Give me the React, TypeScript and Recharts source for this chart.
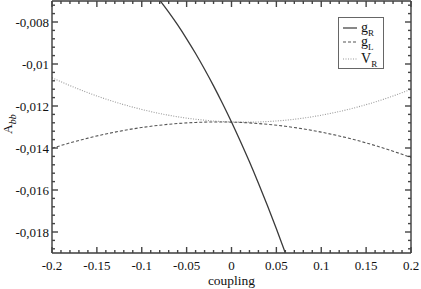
import { LineChart, Line, XAxis, YAxis, Legend } from 'recharts'

const FRAME = '#3c3c3c'
const TICK = '#444'
const FONT = '"Liberation Serif", "Times New Roman", serif'

// coupling values
const gRCoupling = [-0.08, -0.07, -0.06, -0.05, -0.04, -0.03, -0.02, -0.01, 0, 0.01, 0.02, 0.03, 0.04, 0.05, 0.06, 0.07]
const gRValues = [
  -0.00696, -0.00753, -0.00814, -0.0088, -0.0095, -0.01025, -0.01104, -0.01188, -0.01276,
  -0.01369, -0.01466, -0.01568, -0.01674, -0.01785, -0.019, -0.0202,
]

const sideCoupling = [
  -0.2, -0.18, -0.16, -0.14, -0.12, -0.1, -0.08, -0.06, -0.04, -0.02, 0,
  0.02, 0.04, 0.06, 0.08, 0.1, 0.12, 0.14, 0.16, 0.18, 0.2,
]
const gLValues = [
  -0.014013, -0.013756, -0.01353, -0.013332, -0.013164, -0.013024, -0.012915, -0.012834, -0.012783, -0.012761, -0.012768,
  -0.012805, -0.012871, -0.012966, -0.01309, -0.013244, -0.013427, -0.013639, -0.013881, -0.014152, -0.014452,
]
const vRValues = [
  -0.010653, -0.011028, -0.011367, -0.01167, -0.011935, -0.012164, -0.012357, -0.012512, -0.012631, -0.012714, -0.01276,
  -0.01277, -0.012741, -0.012677, -0.012576, -0.012439, -0.012265, -0.012054, -0.011807, -0.011523, -0.011203,
]

const xMajorTicks = [-0.2, -0.15, -0.1, -0.05, 0, 0.05, 0.1, 0.15, 0.2]
const xMajorLabels = ['-0.2', '-0.15', '-0.1', '-0.05', '0', '0.05', '0.1', '0.15', '0.2']
const yMajorTicks = [-0.018, -0.016, -0.014, -0.012, -0.01, -0.008]
const yMajorLabels = ['-0,018', '-0,016', '-0,014', '-0,012', '-0,01', '-0,008']

const xTicks = Array.from({ length: 41 }, (_, i) => Math.round((-0.2 + i * 0.01) * 100) / 100)
const yTicks = Array.from({ length: 30 }, (_, i) => Math.round((-0.0188 + i * 0.0004) * 10000) / 10000)

const gRData = gRCoupling.map((x, i) => ({ x, y: gRValues[i] }))
const gLData = sideCoupling.map((x, i) => ({ x, y: gLValues[i] }))
const vRData = sideCoupling.map((x, i) => ({ x, y: vRValues[i] }))

const near = (a: number, b: number) => Math.abs(a - b) < 1e-7

function xLabel(v: number) {
  const i = xMajorTicks.findIndex(t => near(t, v))
  return i >= 0 ? xMajorLabels[i] : null
}
function yLabel(v: number) {
  const i = yMajorTicks.findIndex(t => near(t, v))
  return i >= 0 ? yMajorLabels[i] : null
}

const renderBottomTick = (p: any) => {
  const label = xLabel(p.payload.value)
  const len = label ? 6 : 3
  return (
    <g key={`b-${p.index}`}>
      <path d={`M${p.x},${p.y}V${p.y - len}`} stroke={TICK} strokeWidth={1.4} fill="none" />
      {label && (
        <text x={p.x} y={p.y + 17} textAnchor="middle" fontFamily={FONT} fontSize={13} fill="#111">
          {label}
        </text>
      )}
    </g>
  )
}

const renderTopTick = (p: any) => {
  const len = xLabel(p.payload.value) ? 6 : 3
  return <path key={`t-${p.index}`} d={`M${p.x},${p.y}V${p.y + len}`} stroke={TICK} strokeWidth={1.4} fill="none" />
}

const renderLeftTick = (p: any) => {
  const label = yLabel(p.payload.value)
  const len = label ? 6 : 3
  return (
    <g key={`l-${p.index}`}>
      <path d={`M${p.x},${p.y}H${p.x + len}`} stroke={TICK} strokeWidth={1.4} fill="none" />
      {label && (
        <text x={p.x - 3} y={p.y + 4.5} textAnchor="end" fontFamily={FONT} fontSize={13} fill="#111">
          {label}
        </text>
      )}
    </g>
  )
}

const renderRightTick = (p: any) => {
  const len = yLabel(p.payload.value) ? 6 : 3
  return <path key={`r-${p.index}`} d={`M${p.x},${p.y}H${p.x - len}`} stroke={TICK} strokeWidth={1.4} fill="none" />
}

function YTitle({ viewBox }: any) {
  const cx = 12
  const cy = viewBox.y + viewBox.height / 2 - 3
  return (
    <text x={cx} y={cy} transform={`rotate(-90, ${cx}, ${cy})`} textAnchor="middle" fontFamily={FONT} fontSize={13.5} fill="#111">
      A
      <tspan fontStyle="italic" fontSize={10} dy={4}>bb</tspan>
    </text>
  )
}

const legendItems = [
  { name: 'g', sub: 'R', dash: undefined, color: '#3a3a3a', top: 3 },
  { name: 'g', sub: 'L', dash: '3 2', color: '#555', top: 17 },
  { name: 'V', sub: 'R', dash: '1 1.5', color: '#999', top: 34 },
]

function LegendBox() {
  return (
    <div style={{ position: 'relative', width: 46, height: 52, border: '1px solid #666', background: '#fff', boxSizing: 'border-box' }}>
      {legendItems.map(item => (
        <div key={item.name + item.sub} style={{ position: 'absolute', left: 0, top: item.top, height: 16, display: 'flex', alignItems: 'flex-start', fontFamily: FONT, fontSize: 14, lineHeight: '14px', color: '#111' }}>
          <svg width={22} height={14} style={{ display: 'block' }}>
            <line x1={4} x2={18} y1={7} y2={7} stroke={item.color} strokeWidth={1.2} strokeDasharray={item.dash} />
          </svg>
          <span style={{ whiteSpace: 'nowrap' }}>
            {item.name}
            <span style={{ fontSize: 9, position: 'relative', top: 4 }}>{item.sub}</span>
          </span>
        </div>
      ))}
    </div>
  )
}

export default function App() {
  return (
    <div style={{ position: 'absolute', left: 0, top: 0, background: '#fff' }}>
      <LineChart width={421} height={289} margin={{ top: 0, right: 9, left: 0, bottom: 0 }}>
        <XAxis
          xAxisId="bottom"
          dataKey="x"
          type="number"
          domain={[-0.2, 0.2]}
          ticks={xTicks}
          interval={0}
          allowDataOverflow
          height={36}
          tickSize={0}
          tickMargin={0}
          tick={renderBottomTick}
          tickLine={false}
          axisLine={{ stroke: FRAME, strokeWidth: 1.4 }}
          label={{ value: 'coupling', position: 'insideBottom', offset: 4, fontFamily: FONT, fontSize: 13.5, fill: '#111' }}
        />
        <XAxis
          xAxisId="top"
          orientation="top"
          dataKey="x"
          type="number"
          domain={[-0.2, 0.2]}
          ticks={xTicks}
          interval={0}
          allowDataOverflow
          height={1}
          tickSize={0}
          tickMargin={0}
          tick={renderTopTick}
          tickLine={false}
          axisLine={{ stroke: FRAME, strokeWidth: 1.4 }}
        />
        <YAxis
          yAxisId="left"
          type="number"
          domain={[-0.019, -0.007]}
          ticks={yTicks}
          interval={0}
          allowDataOverflow
          width={52}
          tickSize={0}
          tickMargin={0}
          tick={renderLeftTick}
          tickLine={false}
          axisLine={{ stroke: FRAME, strokeWidth: 1.4 }}
          label={{ content: YTitle }}
        />
        <YAxis
          yAxisId="right"
          orientation="right"
          type="number"
          domain={[-0.019, -0.007]}
          ticks={yTicks}
          interval={0}
          allowDataOverflow
          width={1}
          tickSize={0}
          tickMargin={0}
          tick={renderRightTick}
          tickLine={false}
          axisLine={{ stroke: FRAME, strokeWidth: 1.4 }}
        />
        <Line
          xAxisId="bottom"
          yAxisId="left"
          data={vRData}
          dataKey="y"
          type="monotone"
          stroke="#9a9a9a"
          strokeWidth={1.1}
          strokeDasharray="1 1.5"
          dot={false}
          isAnimationActive={false}
        />
        <Line
          xAxisId="bottom"
          yAxisId="left"
          data={gLData}
          dataKey="y"
          type="monotone"
          stroke="#555"
          strokeWidth={1.1}
          strokeDasharray="3 2"
          dot={false}
          isAnimationActive={false}
        />
        <Line
          xAxisId="bottom"
          yAxisId="left"
          data={gRData}
          dataKey="y"
          type="monotone"
          stroke="#3a3a3a"
          strokeWidth={1.3}
          dot={false}
          isAnimationActive={false}
        />
        <Legend
          layout="vertical"
          align="center"
          verticalAlign="middle"
          content={() => <LegendBox />}
          wrapperStyle={{ left: 338, top: 17, width: 46, height: 52 }}
        />
      </LineChart>
    </div>
  )
}
